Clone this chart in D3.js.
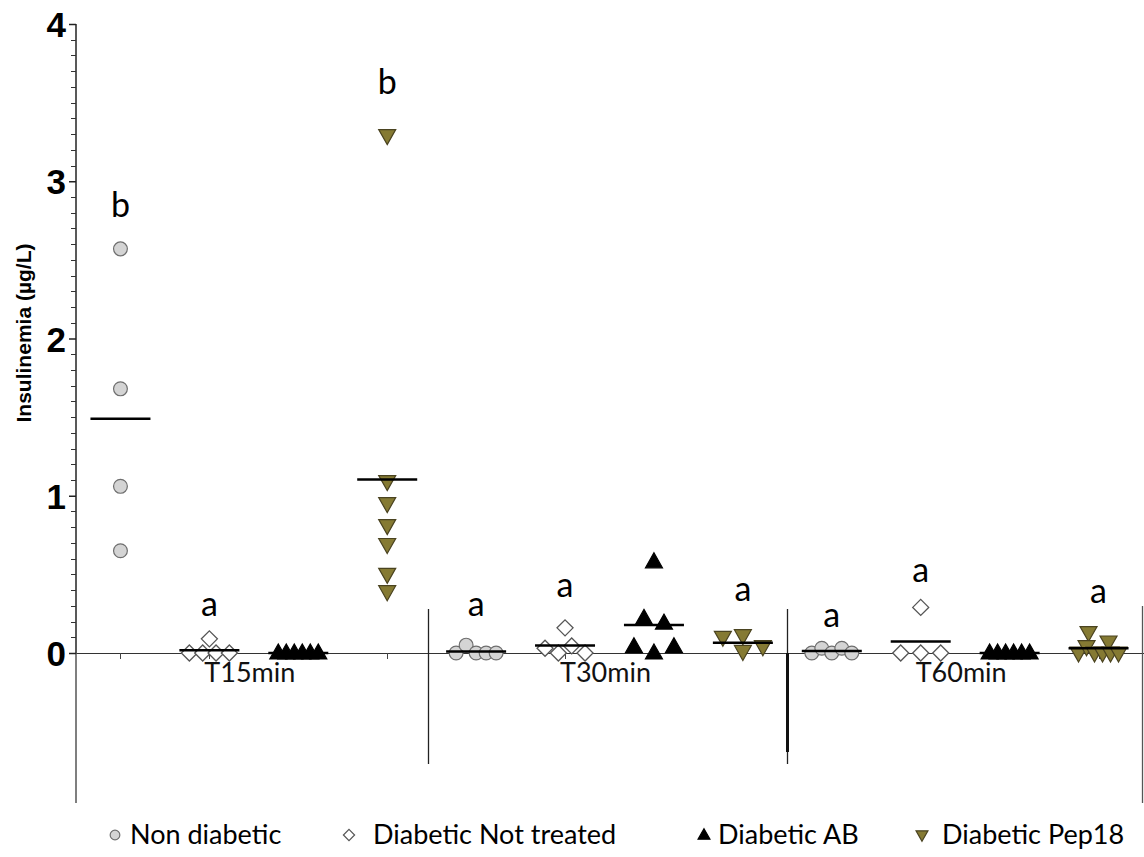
<!DOCTYPE html>
<html>
<head>
<meta charset="utf-8">
<script src="https://cdn.jsdelivr.net/npm/d3@7"></script>
<style>
  html, body { margin: 0; padding: 0; background: #fff; }
  svg { display: block; }
</style>
</head>
<body>
<svg id="chart" width="1144" height="857"></svg>
<script>
// ---------------- data ----------------
const groups = ["T15min", "T30min", "T60min"];
const seriesNames = ["Non diabetic", "Diabetic Not treated", "Diabetic AB", "Diabetic Pep18"];
const yTicks = [0, 1, 2, 3, 4];
const yLabel = "Insulinemia (µg/L)";

// values per group (T15, T30, T60), in plotting order
const nonDiabetic = [[2.57, 1.68, 1.06, 0.65], [0, 0.05, 0, 0, 0], [0, 0.03, 0, 0.03, 0]];
const notTreated  = [[0.09, 0, 0, 0, 0], [0.03, 0.16, 0, 0.045, 0], [0.29, 0, 0, 0]];
const diabeticAB  = [[0, 0, 0, 0, 0, 0], [0.58, 0.22, 0.19, 0.04, 0, 0.04], [0, 0, 0, 0, 0, 0]];
const pep18       = [[3.29, 1.09, 0.95, 0.81, 0.69, 0.50, 0.39], [0.10, 0.11, 0.04, 0.01], [0.13, 0.07, 0, 0.04, 0, 0, 0, 0]];

// significance letters and their heights (data units), per group x series
const sigLetters = [["b", "a", "", "b"], ["a", "a", "", "a"], ["a", "a", "", "a"]];
const sigLevels  = [[2.85, 0.29, 0, 3.63], [0.29, 0.41, 0, 0.39], [0.22, 0.51, 0, 0.375]];

const seriesValues = [nonDiabetic, notTreated, diabeticAB, pep18];

// ---------------- layout ----------------
const svg = d3.select("#chart");
const axisX = 76, plotRight = 1143, yTop = 24, yZero = 653;
const calibri = "Lato, 'Open Sans', sans-serif";

const y = d3.scaleLinear().domain([0, 4]).range([yZero, yTop]);
const xGroup = d3.scaleBand().domain(groups).range([axisX, plotRight]).padding(0);
const xSeries = d3.scalePoint().domain(seriesNames).range([0, xGroup.bandwidth()]).padding(0.5);

const styles = {
  "Non diabetic": { shape: "circle", fill: "#d4d4d4", stroke: "#6e6e6e" },
  "Diabetic Not treated": { shape: "diamond", fill: "#ffffff", stroke: "#555555" },
  "Diabetic AB": { shape: "up", fill: "#000000", stroke: "#000000" },
  "Diabetic Pep18": { shape: "down", fill: "#857a33", stroke: "#4a4320" }
};

function shapePath(shape, s) {
  switch (shape) {
    case "circle": return d3.symbol(d3.symbolCircle, 150 * s * s)();
    case "diamond": { const h = 8 * s; return `M0,${-h}L${h},0L0,${h}L${-h},0Z`; }
    case "up": { const w = 8.5 * s, h = 15 * s; return `M0,${-h * 0.6}L${w},${h * 0.4}L${-w},${h * 0.4}Z`; }
    case "down": { const w = 8.5 * s, h = 15 * s; return `M0,${h * 0.6}L${w},${-h * 0.4}L${-w},${-h * 0.4}Z`; }
  }
}

// ---------- x axis baseline and ticks ----------
svg.append("line")
  .attr("x1", axisX).attr("x2", plotRight + 1).attr("y1", yZero + 0.5).attr("y2", yZero + 0.5)
  .attr("stroke", "#333").attr("stroke-width", 1.2);

groups.forEach(g => {
  seriesNames.forEach(s => {
    const cx = Math.round(xGroup(g) + xSeries(s)) + 0.5;
    svg.append("line").attr("x1", cx).attr("x2", cx).attr("y1", yZero).attr("y2", yZero + 6)
      .attr("stroke", "#444").attr("stroke-width", 1);
  });
});

// group separators
groups.forEach((g, i) => {
  if (i === 0) return;
  const sx = Math.round(xGroup(g)) - (i === 1 ? 4 : 0) + 0.5;
  svg.append("line").attr("x1", sx).attr("x2", sx).attr("y1", 609).attr("y2", 764)
    .attr("stroke", "#222").attr("stroke-width", 1.3);
  if (i === 2) {
    svg.append("line").attr("x1", sx).attr("x2", sx).attr("y1", yZero).attr("y2", 752)
      .attr("stroke", "#111").attr("stroke-width", 3);
  }
});
svg.append("line").attr("x1", plotRight - 0.5).attr("x2", plotRight - 0.5).attr("y1", 606).attr("y2", 803)
  .attr("stroke", "#555").attr("stroke-width", 1.3);

// group labels
svg.append("g").selectAll("text").data(groups).join("text")
  .attr("x", d => xGroup(d) + xGroup.bandwidth() / 2 - 4)
  .attr("y", 682)
  .attr("text-anchor", "middle")
  .attr("font-family", calibri)
  .attr("font-size", 27)
  .attr("fill", "#111")
  .text(d => d);

// ---------- y axis ----------
svg.append("line").attr("x1", axisX).attr("x2", axisX).attr("y1", yTop).attr("y2", yZero)
  .attr("stroke", "#222").attr("stroke-width", 1.5);
svg.append("line").attr("x1", axisX).attr("x2", axisX).attr("y1", yZero).attr("y2", 803)
  .attr("stroke", "#555").attr("stroke-width", 1.5);

const minorTicks = d3.range(0, 40).map(i => i / 10).filter(v => Math.abs(v - Math.round(v)) > 1e-6);
svg.append("g").selectAll("line").data(minorTicks).join("line")
  .attr("x1", axisX - 5).attr("x2", axisX)
  .attr("y1", d => Math.round(y(d)) + 0.5).attr("y2", d => Math.round(y(d)) + 0.5)
  .attr("stroke", "#333").attr("stroke-width", 1);

const yAxis = d3.axisLeft(y).tickValues(yTicks).tickSize(7).tickPadding(3).tickFormat(d3.format("d"));
const yg = svg.append("g").attr("transform", `translate(${axisX},0)`).call(yAxis);
yg.select(".domain").remove();
yg.selectAll(".tick line").attr("stroke", "#222").attr("stroke-width", 1.5);
yg.selectAll(".tick text")
  .attr("font-family", "'Liberation Sans', Arial, sans-serif")
  .attr("font-weight", "bold")
  .attr("font-size", 35)
  .attr("fill", "#000")
  .attr("dy", "0.36em");

svg.append("text")
  .attr("transform", `translate(31,333) rotate(-90)`)
  .attr("text-anchor", "middle")
  .attr("font-family", "'Liberation Sans', Arial, sans-serif")
  .attr("font-weight", "bold")
  .attr("font-size", 21)
  .attr("fill", "#000")
  .text(yLabel);

// ---------- points ----------
function layoutColumn(vals) {
  // group points of close height into rows, spread each row centred, keeping data order
  const items = vals.map((v, i) => ({ v, i, py: y(v) }));
  const sorted = items.slice().sort((a, b) => a.py - b.py);
  const rows = [];
  sorted.forEach(it => {
    const row = rows[rows.length - 1];
    if (row && it.py - row[0].py < 12) row.push(it); else rows.push([it]);
  });
  rows.forEach(row => {
    const n = row.length;
    const step = n > 1 ? Math.min(20, 40 / (n - 1)) : 0;
    row.sort((a, b) => a.i - b.i).forEach((it, k) => { it.dx = (k - (n - 1) / 2) * step; });
  });
  return items;
}

const pointsG = svg.append("g");
const meanG = svg.append("g");
groups.forEach((g, gi) => {
  seriesNames.forEach((s, si) => {
    const vals = seriesValues[si][gi];
    const cx = xGroup(g) + xSeries(s);
    const st = styles[s];
    const pts = layoutColumn(vals);
    pointsG.append("g").selectAll("path").data(pts).join("path")
      .attr("d", shapePath(st.shape, 1))
      .attr("transform", d => `translate(${cx + d.dx},${d.py})`)
      .attr("fill", st.fill)
      .attr("stroke", st.stroke)
      .attr("stroke-width", st.shape === "diamond" ? 1.3 : 1.2);
    const m = d3.mean(vals);
    meanG.append("line")
      .attr("x1", cx - 30).attr("x2", cx + 30)
      .attr("y1", y(m)).attr("y2", y(m))
      .attr("stroke", "#000").attr("stroke-width", 2.5);
    const letter = sigLetters[gi][si];
    if (letter) {
      svg.append("text")
        .attr("x", cx).attr("y", y(sigLevels[gi][si]))
        .attr("dy", letter === "a" ? "0.26em" : "0.36em")
        .attr("text-anchor", "middle")
        .attr("font-family", calibri)
        .attr("font-size", 34)
        .attr("fill", "#000")
        .text(letter);
    }
  });
});

// ---------- legend ----------
const legendX = [115, 349, 704, 922];
const legendTextX = [130, 373, 718, 942];
const legendY = 835;
const lg = svg.append("g");
seriesNames.forEach((s, i) => {
  const st = styles[s];
  lg.append("path")
    .attr("d", shapePath(st.shape, 0.7))
    .attr("transform", `translate(${legendX[i]},${legendY})`)
    .attr("fill", st.fill).attr("stroke", st.stroke).attr("stroke-width", 1.2);
  lg.append("text")
    .attr("x", legendTextX[i]).attr("y", legendY)
    .attr("dy", "0.35em")
    .attr("font-family", calibri)
    .attr("font-size", 27)
    .attr("fill", "#000")
    .text(s);
});
</script>
</body>
</html>
